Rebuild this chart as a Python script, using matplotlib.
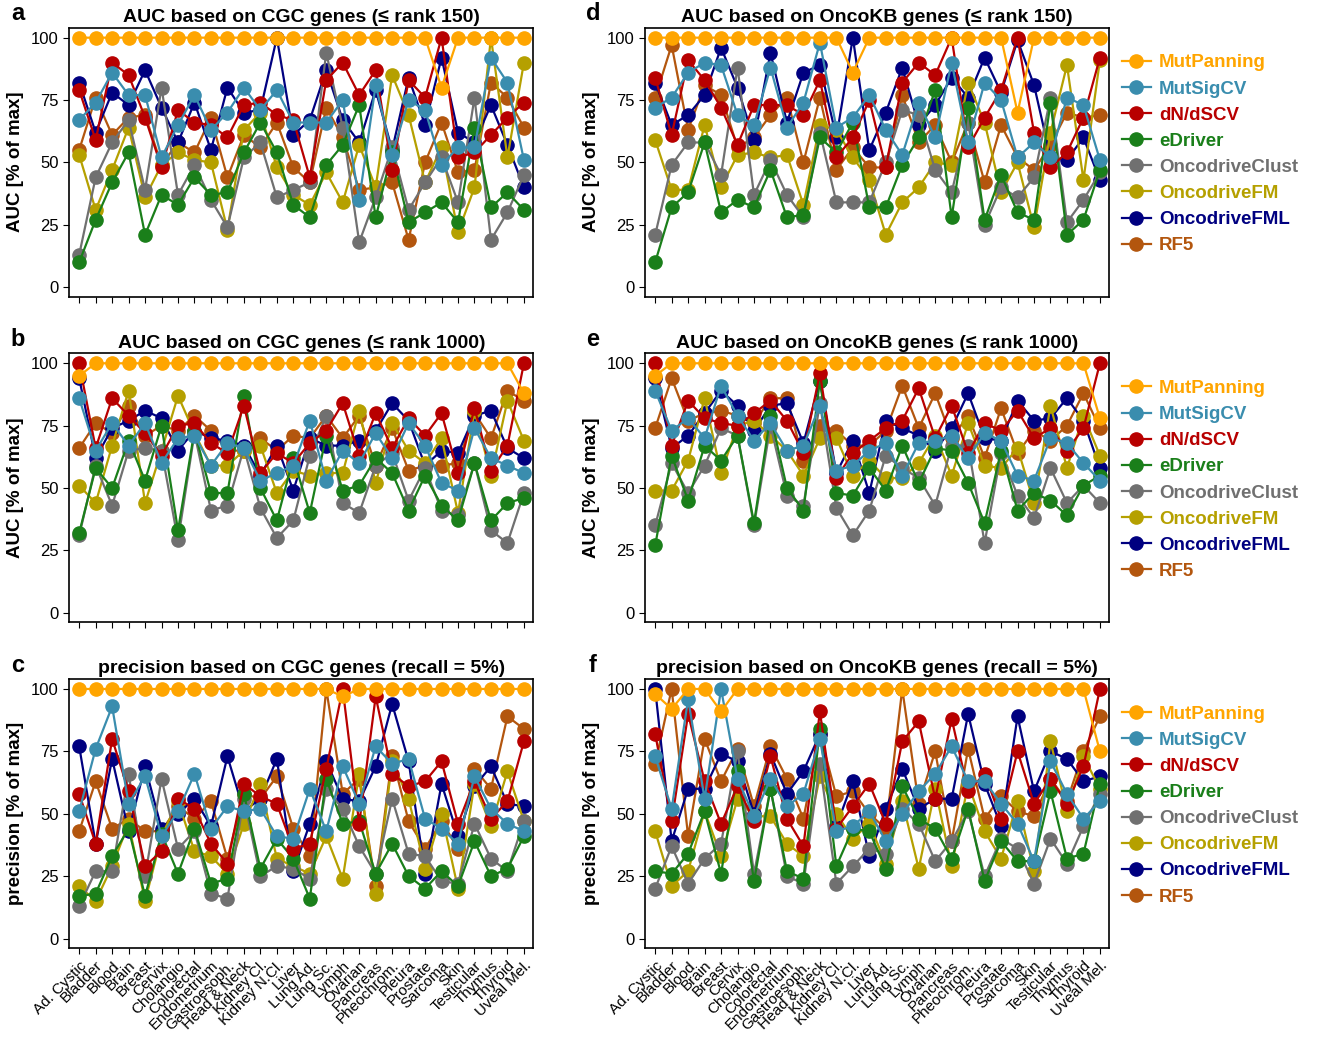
import matplotlib
matplotlib.use("Agg")
import matplotlib.pyplot as plt

plt.rcParams["font.family"] = ["Liberation Sans", "DejaVu Sans"]

# tumour types on the x axis
cancer_types = ["Ad. Cystic", "Bladder", "Blood", "Brain", "Breast", "Cervix", "Cholangio",
                "Colorectal", "Endometrium", "Gastroesoph.", "Head & Neck", "Kidney Cl.",
                "Kidney N.Cl.", "Liver", "Lung Ad.", "Lung Sc.", "Lymph", "Ovarian", "Pancreas",
                "Pheochrom.", "Pleura", "Prostate", "Sarcoma", "Skin", "Testicular", "Thymus",
                "Thyroid", "Uveal Mel."]

methods = ["MutPanning", "MutSigCV", "dN/dSCV", "eDriver", "OncodriveClust",
           "OncodriveFM", "OncodriveFML", "RF5"]
colors = ["#FFA500", "#3A8DAE", "#B80000", "#1A7F1A", "#707070",
          "#B5A000", "#000080", "#B3560E"]

# a: AUC, CGC genes, rank <= 150
auc_cgc_150 = {
    "MutPanning":     [100]*22 + [80] + [100]*5,
    "MutSigCV":       [67, 74, 86, 77, 77, 52, 65, 77, 63, 70, 80, 71, 79, 66, 66, 66, 75, 35, 81, 53, 75, 71, 49, 56, 56, 92, 82, 51],
    "dN/dSCV":        [79, 59, 90, 85, 68, 48, 71, 66, 65, 60, 73, 74, 69, 67, 44, 83, 90, 77, 87, 47, 83, 76, 100, 52, 54, 61, 68, 74],
    "eDriver":        [10, 27, 42, 54, 21, 37, 33, 44, 37, 38, 54, 66, 54, 33, 28, 49, 57, 73, 28, 54, 26, 30, 34, 26, 64, 32, 38, 31],
    "OncodriveClust": [13, 44, 58, 67, 39, 80, 37, 49, 35, 24, 52, 58, 36, 39, 42, 94, 64, 18, 36, 56, 31, 42, 52, 34, 76, 19, 30, 45],
    "OncodriveFM":    [53, 31, 47, 64, 36, 49, 54, 51, 50, 23, 63, 70, 48, 37, 33, 46, 34, 57, 40, 85, 69, 42, 56, 22, 40, 100, 52, 90],
    "OncodriveFML":   [82, 62, 78, 73, 87, 72, 58, 74, 55, 80, 70, 71, 100, 61, 67, 87, 67, 58, 79, 55, 84, 65, 92, 62, 58, 73, 57, 40],
    "RF5":            [55, 76, 61, 68, 69, 49, 58, 54, 68, 44, 61, 56, 66, 48, 42, 72, 60, 39, 40, 42, 19, 50, 66, 46, 47, 82, 76, 64],
}

# b: AUC, CGC genes, rank <= 1000
auc_cgc_1000 = {
    "MutPanning":     [95] + [100]*26 + [88],
    "MutSigCV":       [86, 65, 76, 67, 76, 60, 70, 71, 59, 68, 66, 53, 56, 59, 77, 53, 65, 60, 72, 62, 76, 67, 52, 49, 74, 62, 59, 56],
    "dN/dSCV":        [100, 66, 86, 79, 72, 63, 75, 76, 68, 64, 83, 56, 64, 60, 68, 73, 84, 63, 80, 66, 78, 71, 80, 56, 82, 57, 67, 100],
    "eDriver":        [32, 58, 50, 69, 53, 75, 33, 73, 48, 48, 87, 50, 37, 62, 40, 71, 49, 51, 62, 56, 41, 55, 43, 37, 60, 37, 44, 46],
    "OncodriveClust": [31, 59, 43, 65, 66, 65, 29, 72, 41, 43, 66, 42, 30, 37, 63, 79, 44, 40, 59, 64, 45, 58, 41, 39, 60, 33, 28, 48],
    "OncodriveFM":    [51, 44, 67, 89, 44, 65, 87, 72, 59, 59, 65, 67, 48, 57, 55, 56, 56, 81, 52, 76, 65, 60, 70, 40, 81, 55, 85, 69],
    "OncodriveFML":   [94, 62, 74, 77, 81, 78, 65, 73, 70, 69, 67, 55, 67, 49, 70, 67, 67, 69, 73, 84, 77, 59, 65, 64, 79, 81, 66, 62],
    "RF5":            [66, 76, 72, 83, 71, 75, 73, 79, 73, 65, 65, 70, 65, 71, 70, 79, 70, 79, 59, 74, 57, 59, 59, 60, 80, 70, 89, 85],
}

# c: precision, CGC genes, recall = 5%
prec_cgc = {
    "MutPanning":     [100]*16 + [97] + [100]*11,
    "MutSigCV":       [51, 76, 93, 54, 65, 41, 51, 66, 44, 53, 51, 52, 41, 40, 60, 43, 69, 54, 77, 70, 72, 48, 44, 38, 65, 52, 46, 43],
    "dN/dSCV":        [58, 38, 80, 59, 29, 35, 56, 52, 38, 30, 62, 57, 54, 36, 38, 68, 100, 46, 97, 66, 61, 63, 71, 46, 63, 48, 55, 79],
    "eDriver":        [17, 18, 33, 44, 17, 42, 26, 44, 22, 24, 58, 28, 40, 32, 16, 64, 46, 47, 26, 38, 25, 20, 27, 21, 39, 25, 28, 41],
    "OncodriveClust": [13, 27, 27, 66, 25, 64, 36, 43, 18, 16, 56, 25, 29, 28, 24, 60, 52, 37, 26, 56, 34, 33, 23, 22, 46, 32, 27, 47],
    "OncodriveFM":    [21, 15, 29, 46, 15, 41, 55, 35, 33, 26, 46, 62, 32, 29, 26, 41, 24, 66, 18, 71, 56, 28, 50, 20, 62, 45, 67, 47],
    "OncodriveFML":   [77, 38, 72, 43, 69, 44, 50, 56, 45, 73, 51, 56, 72, 27, 46, 71, 56, 55, 69, 94, 71, 26, 62, 41, 61, 69, 54, 53],
    "RF5":            [43, 63, 44, 48, 43, 43, 53, 48, 55, 32, 58, 56, 65, 44, 33, 100, 58, 64, 21, 73, 47, 36, 47, 36, 68, 60, 89, 84],
}

# d: AUC, OncoKB genes, rank <= 150
auc_okb_150 = {
    "MutPanning":     [100]*12 + [86] + [100]*9 + [70] + [100]*5,
    "MutSigCV":       [72, 76, 86, 90, 89, 69, 65, 88, 64, 74, 98, 64, 68, 77, 63, 53, 74, 60, 90, 58, 82, 75, 52, 58, 52, 76, 73, 51],
    "dN/dSCV":        [84, 61, 91, 83, 72, 57, 73, 73, 73, 69, 83, 52, 60, 75, 48, 82, 90, 85, 100, 56, 68, 79, 100, 62, 48, 54, 68, 92],
    "eDriver":        [10, 32, 38, 58, 30, 35, 32, 47, 28, 29, 60, 54, 66, 32, 32, 49, 60, 79, 28, 72, 27, 45, 30, 27, 74, 21, 27, 47],
    "OncodriveClust": [21, 49, 58, 58, 45, 88, 37, 51, 37, 28, 62, 34, 34, 34, 50, 71, 69, 47, 38, 66, 25, 40, 36, 44, 76, 26, 35, 46],
    "OncodriveFM":    [59, 39, 39, 65, 40, 53, 54, 52, 53, 33, 65, 63, 52, 43, 21, 34, 40, 50, 49, 82, 66, 38, 50, 24, 62, 89, 43, 91],
    "OncodriveFML":   [82, 65, 69, 77, 96, 80, 59, 94, 66, 86, 89, 60, 100, 55, 70, 88, 65, 73, 84, 76, 92, 78, 99, 81, 52, 51, 60, 43],
    "RF5":            [76, 97, 63, 81, 77, 56, 60, 69, 76, 50, 76, 47, 56, 48, 48, 77, 58, 65, 50, 66, 42, 65, 52, 47, 57, 70, 68, 69],
}

# e: AUC, OncoKB genes, rank <= 1000
auc_okb_1000 = {
    "MutPanning":     [95] + [100]*26 + [78],
    "MutSigCV":       [89, 73, 78, 70, 91, 79, 69, 76, 65, 67, 83, 57, 59, 65, 68, 55, 68, 69, 71, 62, 72, 69, 55, 53, 70, 68, 60, 53],
    "dN/dSCV":        [100, 67, 85, 78, 76, 75, 80, 85, 77, 64, 96, 54, 64, 69, 74, 77, 90, 70, 83, 64, 76, 73, 81, 70, 74, 65, 74, 100],
    "eDriver":        [27, 63, 45, 67, 61, 71, 36, 79, 50, 41, 93, 48, 47, 58, 49, 67, 52, 66, 65, 52, 36, 65, 41, 48, 45, 39, 51, 55],
    "OncodriveClust": [35, 60, 48, 59, 74, 71, 35, 75, 47, 43, 84, 42, 31, 41, 63, 58, 54, 43, 67, 67, 28, 64, 47, 38, 58, 44, 51, 44],
    "OncodriveFM":    [49, 49, 61, 86, 56, 75, 77, 71, 65, 55, 70, 70, 55, 61, 54, 54, 60, 71, 55, 76, 59, 58, 66, 44, 83, 58, 79, 63],
    "OncodriveFML":   [94, 66, 71, 80, 89, 83, 73, 83, 84, 68, 93, 56, 69, 48, 77, 74, 71, 65, 74, 88, 70, 69, 85, 77, 78, 86, 77, 58],
    "RF5":            [74, 94, 77, 80, 81, 79, 76, 86, 86, 61, 75, 73, 67, 67, 73, 91, 74, 88, 70, 79, 62, 82, 64, 73, 69, 75, 88, 74],
}

# f: precision, OncoKB genes, recall = 5%
prec_okb = {
    "MutPanning":     [98, 92, 100, 100, 91] + [100]*22 + [75],
    "MutSigCV":       [73, 52, 96, 56, 100, 64, 49, 64, 53, 58, 80, 43, 45, 51, 39, 50, 59, 66, 77, 63, 63, 54, 46, 31, 71, 58, 48, 55],
    "dN/dSCV":        [82, 47, 90, 63, 46, 61, 47, 73, 48, 37, 91, 44, 53, 62, 46, 79, 87, 56, 88, 59, 66, 48, 75, 54, 64, 54, 69, 100],
    "eDriver":        [27, 26, 34, 51, 26, 67, 23, 60, 27, 24, 84, 29, 44, 43, 28, 61, 48, 44, 32, 52, 23, 39, 31, 31, 59, 32, 34, 62],
    "OncodriveClust": [20, 37, 22, 32, 38, 75, 26, 60, 25, 22, 70, 22, 29, 36, 34, 52, 46, 31, 39, 51, 25, 40, 36, 22, 40, 30, 45, 58],
    "OncodriveFM":    [43, 21, 27, 51, 33, 56, 49, 49, 38, 33, 65, 50, 40, 46, 30, 55, 28, 60, 29, 62, 43, 32, 55, 27, 79, 51, 73, 60],
    "OncodriveFML":   [100, 39, 60, 60, 74, 71, 50, 74, 58, 67, 82, 45, 63, 33, 52, 68, 52, 56, 56, 90, 62, 45, 89, 59, 75, 72, 63, 65],
    "RF5":            [70, 100, 41, 80, 63, 76, 53, 77, 64, 48, 82, 57, 59, 50, 44, 100, 54, 75, 39, 76, 48, 57, 51, 49, 64, 55, 75, 89],
}

panels = [
    ("a", auc_cgc_150, "AUC based on CGC genes (\u2264 rank 150)", "AUC [% of max]"),
    ("b", auc_cgc_1000, "AUC based on CGC genes (\u2264 rank 1000)", "AUC [% of max]"),
    ("c", prec_cgc, "precision based on CGC genes (recall = 5%)", "precision [% of max]"),
    ("d", auc_okb_150, "AUC based on OncoKB genes (\u2264 rank 150)", "AUC [% of max]"),
    ("e", auc_okb_1000, "AUC based on OncoKB genes (\u2264 rank 1000)", "AUC [% of max]"),
    ("f", prec_okb, "precision based on OncoKB genes (recall = 5%)", "precision [% of max]"),
]

fig = plt.figure(figsize=(13.21, 10.38), dpi=100)
W, H = 1321, 1038
lefts = [69.3, 645.3]
width = 464.0
tops = [27.7, 353.3, 679.0]
height = 269.0

x = list(range(len(cancer_types)))

for i, (letter, data, title, ylabel) in enumerate(panels):
    col, row = i // 3, i % 3
    ax = fig.add_axes([lefts[col] / W, 1 - (tops[row] + height) / H, width / W, height / H])
    # draw MutPanning last so it sits on top
    for m in reversed(range(len(methods))):
        name = methods[m]
        ax.plot(x, data[name], "-o", color=colors[m], lw=1.6, ms=9.5, label=name,
                zorder=3 + (8 - m))
    ax.set_xlim(-0.6, 27.57)
    ax.set_ylim(-3.8, 104)
    ax.set_yticks([0, 25, 50, 75, 100])
    ax.tick_params(axis="y", labelsize=12, direction="out", length=4)
    ax.set_xticks(x)
    if row == 2:
        ax.set_xticklabels(cancer_types, rotation=45, ha="right", rotation_mode="anchor", fontsize=11)
    else:
        ax.set_xticklabels([])
    ax.tick_params(axis="x", direction="out", length=4)
    for s in ax.spines.values():
        s.set_linewidth(1.2)
    ax.set_title(title, fontsize=14, fontweight="bold", pad=4)
    ax.set_ylabel(ylabel, fontsize=13.5, fontweight="bold")
    ax.yaxis.set_label_coords(-0.097, 0.5)
    fig.text((18 + 575 * col) / W, 1 - (14 + 326 * row) / H, letter, fontsize=17,
             fontweight="bold", ha="center", va="center")

    if col == 1:
        handles, labels = ax.get_legend_handles_labels()
        order = [labels.index(n) for n in methods]
        leg = ax.legend([handles[k] for k in order], [labels[k] for k in order],
                        loc="upper left", bbox_to_anchor=(1.0, 0.95), frameon=False,
                        prop={"size": 13.5, "weight": "bold"}, handlelength=1.5,
                        labelspacing=0.48, borderaxespad=0.3, handletextpad=0.45)
        for t, c in zip(leg.get_texts(), colors):
            t.set_color(c)

fig.savefig("out.png", dpi=100)
